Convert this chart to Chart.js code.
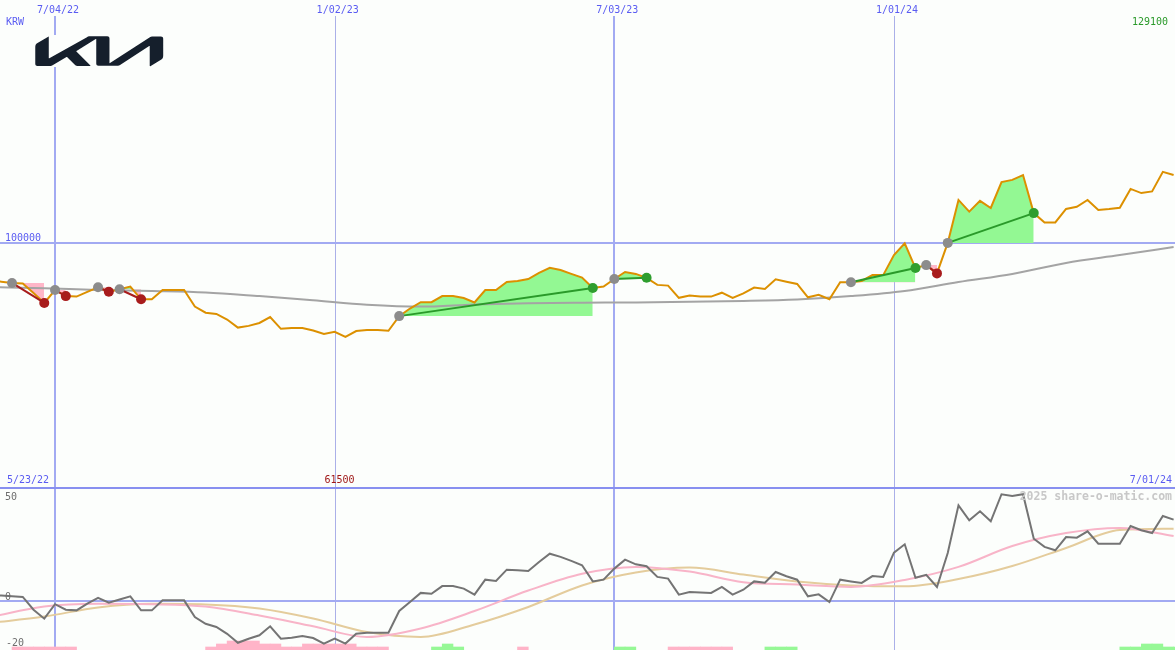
<!DOCTYPE html>
<html>
<head>
<meta charset="utf-8">
<script src="https://cdn.jsdelivr.net/npm/chart.js@4.4.1/dist/chart.umd.min.js"></script>
<style>
  html, body { margin: 0; padding: 0; background: #fcfefc; }
  #wrap { position: relative; width: 1175px; height: 650px; overflow: hidden; background: #fcfefc; }
  #top { position: absolute; left: 0; top: 0; }
  #bottom { position: absolute; left: 0; top: 487px; }
  #logo { position: absolute; left: 35px; top: 35px; }
</style>
</head>
<body>
<div id="wrap">
  <canvas id="top" width="1175" height="487" style="width:1175px;height:487px"></canvas>
  <canvas id="bottom" width="1175" height="163" style="width:1175px;height:163px"></canvas>
  <svg id="logo" width="129" height="32" viewBox="-0.05 8.95 24.2 6.0">
    <rect x="-0.2" y="8.8" width="24.6" height="6.4" fill="#fcfefc"/>
    <path fill="#151f2c" d="M13.923 14.175c0 .046.015.072.041.072a.123.123 0 0 0 .058-.024l7.48-4.854a.72.72 0 0 1 .432-.13h1.644c.252 0 .422.168.422.42v3.139c0 .38-.084.6-.42.801l-1.994 1.2a.137.137 0 0 1-.067.024c-.024 0-.048-.019-.048-.088v-3.663c0-.043-.012-.071-.041-.071a.113.113 0 0 0-.058.024l-5.466 3.551a.733.733 0 0 1-.42.127h-3.624c-.254 0-.422-.168-.422-.422V9.757c0-.033-.015-.064-.044-.064a.118.118 0 0 0-.057.024L7.732 11.95c-.036.024-.046.041-.046.058 0 .014.008.029.032.055l2.577 2.575c.034.034.058.06.058.089 0 .024-.039.043-.084.043H7.94c-.183 0-.324-.026-.423-.125l-1.562-1.56a.067.067 0 0 0-.048-.024.103.103 0 0 0-.048.015l-2.61 1.57a.72.72 0 0 1-.423.122H.425C.168 14.768 0 14.6 0 14.347v-3.08c0-.38.084-.6.422-.8L2.43 9.26a.11.11 0 0 1 .06-.017c.03 0 .044.03.044.086V13.257c0 .041.012.058.043.058a.144.144 0 0 0 .06-.02L9.7 9.349a.655.655 0 0 1 .437-.15h3.364c.254 0 .422.168.422.42l-.001 4.556z"/>
  </svg>
</div>
<script>
// weekly closes, week 0 = 5/23/22 ... week 110 = 7/01/24 (KRW)
const prices = [
  84400, 84100, 83600, 83400, 79500, 75400, 80700, 78200, 78000, 79900,
  81800, 80000, 81000, 82100, 76900, 76900, 80700, 80700, 80700, 73900,
  71400, 70900, 68600, 65300, 66000, 67200, 69600, 64800, 65100, 65100,
  64100, 62700, 63600, 61500, 63900, 64300, 64300, 64000, 70000, 73100,
  75700, 75700, 78200, 78200, 77400, 75600, 80700, 80700, 84000, 84400,
  85200, 87700, 89800, 88900, 87300, 85800, 81500, 82100, 85200, 88100,
  87300, 85700, 82800, 82500, 77500, 78400, 78000, 78000, 79600, 77500,
  79300, 81700, 81100, 85100, 84100, 83200, 77700, 78700, 76900, 83900,
  83900, 84400, 86800, 86800, 95000, 99800, 89700, 90900, 87500, 100000,
  117600, 112800, 117200, 114300, 124900, 125800, 127800, 112200, 108400, 108400,
  113900, 114800, 117600, 113500, 113900, 114400, 122100, 120400, 121100, 129100,
  127800
];

// long moving average, read every 5 weeks
const maWeeks = [0, 5, 10, 15, 20, 25, 30, 35, 40, 45, 50, 55, 60, 65, 70, 75, 80, 85, 90, 95, 100, 105, 110];
const maPrice = [81900, 81400, 80700, 80300, 79700, 78200, 76500, 74700, 73900, 74800, 75300, 75500,
                 75600, 75900, 76200, 76800, 78200, 80300, 84000, 87300, 91800, 95000, 98300];

// trend segments (start week -> end week)
const segStart = [2, 6, 10, 12, 38, 58, 80, 87, 89];
const segEnd   = [5, 7, 11, 14, 56, 61, 86, 88, 97];

// lower panel: oscillator, weekly
const osc = [
  2.8, 2.6, 2.2, 1.9, -4.1, -8.3, -1.5, -4.1, -4.4, -1.2,
  1.5, -0.8, 0.7, 2.2, -4.4, -4.4, 0.3, 0.3, 0.3, -7.5,
  -10.7, -12.2, -15.4, -19.6, -17.7, -16.1, -11.9, -17.7, -17.2, -16.4,
  -17.4, -20.0, -17.7, -20.0, -15.4, -14.9, -14.9, -14.9, -4.7, -0.5,
  3.8, 3.4, 7.0, 7.0, 5.8, 3.0, 10.0, 9.4, 14.7, 14.4,
  14.1, 18.3, 22.2, 20.7, 18.8, 16.8, 9.2, 10.0, 15.2, 19.4,
  17.2, 16.3, 11.3, 10.5, 3.0, 4.2, 4.0, 3.8, 6.6, 3.0,
  5.3, 9.2, 8.6, 13.6, 11.6, 10.0, 2.2, 3.1, -0.5, 10.0,
  9.2, 8.5, 11.7, 11.3, 22.7, 26.6, 10.9, 12.3, 6.6, 22.5,
  44.9, 37.9, 42.1, 37.4, 50.1, 49.3, 50.1, 29.2, 25.4, 23.8,
  30.0, 29.7, 32.7, 26.9, 26.9, 26.9, 35.2, 33.2, 31.9, 39.9,
  38.2
];
// its two averages, read every 5 weeks
const oscFast = [-7.5, -2.6, -1.3, -1.5, -2.6, -6.8, -11.9, -16.9, -12.9, -4.7, 4.9, 12.8,
                 16.0, 13.8, 8.8, 7.7, 6.6, 9.9, 16.0, 25.8, 31.9, 34.3, 30.5];
const oscSlow = [-10.3, -7.3, -3.0, -1.3, -1.6, -3.5, -8.2, -14.6, -16.9, -11.0, -2.8, 7.3,
                 13.4, 15.7, 12.4, 9.1, 7.3, 6.9, 10.3, 16.4, 24.9, 33.3, 33.9];

// signal histogram (+ green / - pink)
const histWeeks = [2, 3, 4, 5, 6, 7,
  20, 21, 22, 23, 24, 25, 26, 27, 28, 29, 30, 31, 32, 33, 34, 35, 36,
  41, 42, 43, 49, 58, 59, 63, 64, 65, 66, 67, 68, 72, 73, 74,
  105, 106, 107, 108, 109, 110];
const histVals = [-1, -1, -1, -1, -1, -1,
  -1, -2, -3, -3, -3, -2, -2, -1, -1, -2, -2, -2, -2, -2, -1, -1, -1,
  1, 2, 1, -1, 1, 1, -1, -1, -1, -1, -1, -1, 1, 1, 1,
  1, 1, 2, 2, 1, 1];

// axis marks
const gridWeeks = [6, 32, 58, 84];
const gridLabels = ['7/04/22', '1/02/23', '7/03/23', '1/01/24'];
const gridThick = [true, false, true, false];
const startLabel = '5/23/22';
const endLabel = '7/01/24';
const refLevel = 100000;
const oscTicks = [50, 0, -20];

const BLUE = '#5a5cf2';
const GRIDBLUE = '#a2aaf2';
const ORANGE = '#dc9000';
const GREENFILL = '#93f893';
const PINKFILL = '#ffb6c8';
const GREENLINE = '#2a9a2a';
const REDLINE = '#a81c1c';
const MONO = '"DejaVu Sans Mono", monospace';

const makeX = () => ({ type: 'linear', min: 0.883, max: 110.13, offset: false, grid: { offset: false }, display: false });

const gridPlugin = {
  id: 'grid',
  beforeDatasetsDraw(chart, args, opts) {
    const { ctx, chartArea, scales } = chart;
    ctx.save();
    gridWeeks.forEach((w, i) => {
      const x = Math.round(scales.x.getPixelForValue(w));
      ctx.strokeStyle = gridThick[i] ? GRIDBLUE : '#aab0e8';
      ctx.lineWidth = gridThick[i] ? 2 : 1;
      const px = gridThick[i] ? x : x + 0.5;
      ctx.beginPath();
      ctx.moveTo(px, opts.top || 0);
      ctx.lineTo(px, chartArea.bottom);
      ctx.stroke();
    });
    (opts.hLines || []).forEach(h => {
      const y = h.px !== undefined ? h.px : Math.round(scales.y.getPixelForValue(h.v));
      ctx.strokeStyle = h.color;
      ctx.lineWidth = 2;
      ctx.beginPath();
      ctx.moveTo(0, y);
      ctx.lineTo(chartArea.right, y);
      ctx.stroke();
    });
    ctx.restore();
  }
};

const topText = {
  id: 'topText',
  afterDraw(chart) {
    const { ctx, scales: { x, y } } = chart;
    const maxPrice = Math.max(...prices);
    const minPrice = Math.min(...prices);
    ctx.save();
    ctx.font = '10px ' + MONO;
    ctx.fillStyle = BLUE;
    ctx.textAlign = 'center';
    gridWeeks.forEach((w, i) => ctx.fillText(gridLabels[i], x.getPixelForValue(w) + 3, 13));
    ctx.textAlign = 'left';
    ctx.fillText('KRW', 6, 25);
    ctx.fillText(String(refLevel), 5, y.getPixelForValue(refLevel) - 2);
    ctx.fillText(startLabel, 7, 483);
    ctx.textAlign = 'right';
    ctx.fillText(endLabel, 1172, 483);
    ctx.fillStyle = '#2a9a2a';
    ctx.fillText(String(maxPrice), 1168, 25);
    ctx.fillStyle = '#a01818';
    ctx.textAlign = 'center';
    ctx.fillText(String(minPrice), x.getPixelForValue(prices.indexOf(minPrice)) - 6, 483);
    ctx.restore();
  }
};

const bottomText = {
  id: 'bottomText',
  afterDraw(chart) {
    const { ctx } = chart;
    const base = [13, 113, 158.5];
    ctx.save();
    ctx.font = '10px ' + MONO;
    ctx.fillStyle = '#6e6e6e';
    ctx.textAlign = 'left';
    oscTicks.forEach((t, i) => ctx.fillText(String(t), t < 0 ? 6 : 5, base[i]));
    ctx.font = 'bold 11.5px ' + MONO;
    ctx.fillStyle = '#c8c8c8';
    ctx.textAlign = 'right';
    ctx.fillText('2025 share-o-matic.com', 1172, 13);
    ctx.restore();
  }
};

// ---------- top panel ----------
const topSets = [];
segStart.forEach((s, i) => {
  const e = segEnd[i];
  const pts = [];
  for (let k = s; k <= e; k++) pts.push({ x: k, y: prices[k] });
  topSets.push({
    data: pts, borderWidth: 0, pointRadius: 0, order: 10,
    fill: { target: { value: prices[s] }, above: GREENFILL, below: PINKFILL }
  });
});
topSets.push({
  data: maWeeks.map((w, i) => ({ x: w, y: maPrice[i] })),
  borderColor: '#a4a4a4', borderWidth: 2, pointRadius: 0, fill: false, order: 8,
  cubicInterpolationMode: 'monotone'
});
topSets.push({
  data: prices.map((p, i) => ({ x: i, y: p })),
  borderColor: ORANGE, borderWidth: 2, pointRadius: 0, fill: false, order: 6
});
segStart.forEach((s, i) => {
  const e = segEnd[i];
  const up = prices[e] >= prices[s];
  topSets.push({
    data: [{ x: s, y: prices[s] }, { x: e, y: prices[e] }],
    borderColor: up ? GREENLINE : REDLINE, borderWidth: 2, pointRadius: 0, fill: false, order: 4
  });
});
const dots = [], dotColors = [];
segStart.forEach((s, i) => {
  const e = segEnd[i];
  dots.push({ x: s, y: prices[s] });
  dotColors.push('#8c8c8c');
  dots.push({ x: e, y: prices[e] });
  dotColors.push(prices[e] >= prices[s] ? '#2e9e2e' : '#a81c1c');
});
topSets.push({
  data: dots, showLine: false, pointRadius: 5, pointBorderWidth: 0,
  pointBackgroundColor: dotColors, order: 1
});

new Chart(document.getElementById('top'), {
  type: 'line',
  data: { datasets: topSets },
  options: {
    responsive: false, animation: false, events: [],
    layout: { padding: 0, autoPadding: false },
    plugins: {
      legend: { display: false }, tooltip: { enabled: false },
      grid: { top: 16, hLines: [{ v: refLevel, color: GRIDBLUE }] }
    },
    scales: { x: makeX(), y: { min: 0, max: 199500, display: false } }
  },
  plugins: [gridPlugin, topText]
});

// ---------- bottom panel ----------
new Chart(document.getElementById('bottom'), {
  type: 'line',
  data: {
    datasets: [
      {
        type: 'bar', yAxisID: 'yh', order: 10,
        data: histWeeks.map((w, i) => ({ x: w + 0.5, y: Math.abs(histVals[i]) })),
        backgroundColor: histVals.map(v => v > 0 ? '#96f896' : '#ffb4c8'),
        borderWidth: 0, barPercentage: 1, categoryPercentage: 1
      },
      {
        data: maWeeks.map((w, i) => ({ x: w, y: oscSlow[i] })),
        borderColor: '#e4cc9c', borderWidth: 2, pointRadius: 0, fill: false, order: 4,
        cubicInterpolationMode: 'monotone'
      },
      {
        data: maWeeks.map((w, i) => ({ x: w, y: oscFast[i] })),
        borderColor: '#f8b4c8', borderWidth: 2, pointRadius: 0, fill: false, order: 3,
        cubicInterpolationMode: 'monotone'
      },
      {
        data: osc.map((v, i) => ({ x: i, y: v })),
        borderColor: '#747474', borderWidth: 2, pointRadius: 0, fill: false, order: 1
      }
    ]
  },
  options: {
    responsive: false, animation: false, events: [],
    layout: { padding: 0, autoPadding: false },
    plugins: {
      legend: { display: false }, tooltip: { enabled: false },
      grid: { top: 0, hLines: [{ px: 1, color: '#8890f0' }, { v: 0, color: GRIDBLUE }] }
    },
    scales: {
      x: makeX(),
      y: { min: -23, max: 53.5, display: false },
      yh: { min: 0, max: 163 / 3, display: false }
    }
  },
  plugins: [gridPlugin, bottomText]
});
</script>
</body>
</html>
